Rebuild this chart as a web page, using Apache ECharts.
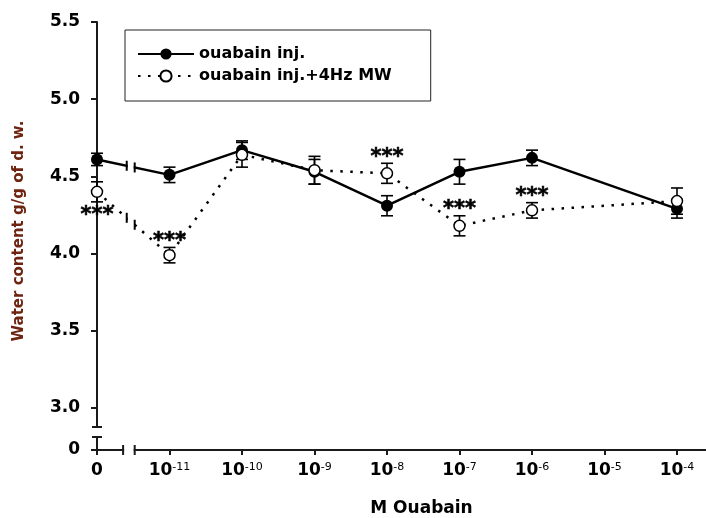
<!DOCTYPE html>
<html><head><meta charset="utf-8">
<script src="https://cdn.jsdelivr.net/npm/echarts@6/dist/echarts.min.js"></script>
<style>html,body{margin:0;padding:0;background:#fff}#chart{width:706px;height:518px}</style>
</head><body><div id="chart"></div>
<script>
// ---- data ----
const tickBase = ['0', '10', '10', '10', '10', '10', '10', '10', '10'];
const tickExponent = ['', '-11', '-10', '-9', '-8', '-7', '-6', '-5', '-4'];
const doseIndex = [0, 1, 2, 3, 4, 5, 6, 7, 8];
const ouabainMean = [4.61, 4.51, 4.67, 4.53, 4.31, 4.53, 4.62, null, 4.29];
const ouabainSem  = [0.04, 0.05, 0.06, 0.08, 0.065, 0.08, 0.05, null, 0.06];
const mwMean = [4.40, 3.99, 4.64, 4.54, 4.52, 4.18, 4.28, null, 4.34];
const mwSem  = [0.065, 0.05, 0.08, 0.09, 0.065, 0.065, 0.05, null, 0.085];
const mwStars = ['below', 'above', null, null, 'above', 'above', 'above', null, null];
const yTicks = [3.0, 3.5, 4.0, 4.5, 5.0, 5.5];
const yLowTicks = [0];
const seriesNames = ['ouabain inj.', 'ouabain inj.+4Hz MW'];
const yName = 'Water content g/g of d. w.';
const xName = 'M Ouabain';

// ---- layout constants ----
const FONT = '"DejaVu Sans", sans-serif';
const Y_MIN = 2.877, Y_MAX = 5.5;
const LOW_MAX = 0.0907;
const X_MAX = 8.4;
const AXIS_COLOR = '#1a1a1a';

function pairs(mean) {
  return doseIndex.filter(i => mean[i] != null).map(i => [doseIndex[i], mean[i]]);
}
function errData(mean, sem) {
  return doseIndex.filter(i => mean[i] != null).map(i => [doseIndex[i], mean[i], sem[i]]);
}
const starData = doseIndex.filter(i => mwStars[i]).map(i => [doseIndex[i], mwMean[i], mwSem[i], mwStars[i] === 'above' ? 1 : -1]);

function renderErr(params, api) {
  const x = api.value(0), m = api.value(1), e = api.value(2);
  const top = api.coord([x, m + e]), bot = api.coord([x, m - e]);
  const hw = 6;
  const style = { stroke: '#000', lineWidth: 1.6 };
  return { type: 'group', children: [
    { type: 'line', shape: { x1: top[0], y1: top[1], x2: bot[0], y2: bot[1] }, style },
    { type: 'line', shape: { x1: top[0] - hw, y1: top[1], x2: top[0] + hw, y2: top[1] }, style },
    { type: 'line', shape: { x1: bot[0] - hw, y1: bot[1], x2: bot[0] + hw, y2: bot[1] }, style }
  ]};
}

function renderStars(params, api) {
  const x = api.value(0), m = api.value(1), e = api.value(2), dir = api.value(3);
  const p = api.coord([x, dir > 0 ? m + e : m - e]);
  const cy = dir > 0 ? p[1] - 11 : p[1] + 9;
  return { type: 'text', x: p[0], y: cy + 5, style: {
    text: '***', fontSize: 21, fontWeight: 'bold', fontFamily: FONT, fill: '#000',
    stroke: '#000', lineWidth: 0.6,
    align: 'center', verticalAlign: 'middle' } };
}

function renderLineBreaks(params, api) {
  const children = [];
  const bar = { stroke: '#000', lineWidth: 2 };
  [ouabainMean, mwMean].forEach(mean => {
    const p0 = api.coord([doseIndex[0], mean[0]]);
    const p1 = api.coord([doseIndex[1], mean[1]]);
    const at = f => [p0[0] + (p1[0] - p0[0]) * f, p0[1] + (p1[1] - p0[1]) * f];
    const a = at(0.41), b = at(0.52);
    children.push({ type: 'polygon', shape: { points: [[a[0] + 1, a[1] - 5], [b[0] - 1, b[1] - 5], [b[0] - 1, b[1] + 5], [a[0] + 1, a[1] + 5]] }, style: { fill: '#fff' } });
    children.push({ type: 'line', shape: { x1: a[0], y1: a[1] - 5, x2: a[0], y2: a[1] + 5 }, style: bar });
    children.push({ type: 'line', shape: { x1: b[0], y1: b[1] - 5, x2: b[0], y2: b[1] + 5 }, style: bar });
  });
  const c = api.coord([0, Y_MIN]);
  children.push({ type: 'line', shape: { x1: c[0] - 5, y1: c[1], x2: c[0] + 5, y2: c[1] }, style: { stroke: AXIS_COLOR, lineWidth: 2 } });
  return { type: 'group', children };
}

function renderAxisBreak(params, api) {
  const o = api.coord([0, 0]);
  const a = api.coord([0.36, 0]), b = api.coord([0.52, 0]);
  const st = { stroke: AXIS_COLOR, lineWidth: 2 };
  const t = api.coord([0, LOW_MAX]);
  return { type: 'group', children: [
    { type: 'rect', shape: { x: a[0] + 1, y: o[1] - 3, width: b[0] - a[0] - 2, height: 6 }, style: { fill: '#fff' } },
    { type: 'line', shape: { x1: a[0], y1: o[1] - 5, x2: a[0], y2: o[1] + 5 }, style: st },
    { type: 'line', shape: { x1: b[0], y1: o[1] - 5, x2: b[0], y2: o[1] + 5 }, style: st },
    { type: 'line', shape: { x1: t[0] - 5, y1: t[1], x2: t[0] + 5, y2: t[1] }, style: st }
  ]};
}

const chart = echarts.init(document.getElementById('chart'), null, { renderer: 'canvas' });
const axisLine = { show: true, onZero: false, lineStyle: { color: AXIS_COLOR, width: 2 } };
const option = {
  animation: false,
  backgroundColor: '#fff',
  textStyle: { fontFamily: FONT },
  legend: {
    orient: 'vertical', left: 125, top: 30,
    borderColor: '#222', borderWidth: 1,
    padding: [16, 39, 17, 12],
    itemWidth: 56, itemHeight: 14, itemGap: 6,
    textStyle: { fontFamily: FONT, fontWeight: 'bold', fontSize: 16, color: '#000' },
    data: seriesNames
  },
  grid: [
    { left: 97, right: 0, top: 22, height: 405 },
    { left: 97, right: 0, top: 437, height: 14 }
  ],
  xAxis: [
    { type: 'value', gridIndex: 0, min: 0, max: X_MAX, show: false, splitLine: { show: false } },
    { type: 'value', gridIndex: 1, min: 0, max: X_MAX, interval: 1,
      axisLine: axisLine,
      axisTick: { show: true, inside: false, length: 5, customValues: doseIndex, lineStyle: { color: AXIS_COLOR, width: 2 } },
      splitLine: { show: false },
      axisLabel: {
        margin: 12, customValues: doseIndex,
        formatter: v => {
          const i = doseIndex.indexOf(Math.round(v));
          if (i < 0 || Math.abs(v - Math.round(v)) > 1e-6) return '';
          return tickExponent[i] ? '{b|' + tickBase[i] + '}{s|' + tickExponent[i] + '}' : '{b|' + tickBase[i] + '}';
        },
        rich: {
          b: { fontFamily: FONT, fontWeight: 'bold', fontSize: 17, color: '#000' },
          s: { fontFamily: FONT, fontWeight: 'normal', fontSize: 11, color: '#000', verticalAlign: 'top' }
        }
      },
      name: xName, nameLocation: 'middle', nameGap: 50,
      nameTextStyle: { fontFamily: FONT, fontWeight: 'bold', fontSize: 17, color: '#000', padding: [0, 0, 0, 40] }
    }
  ],
  yAxis: [
    { type: 'value', gridIndex: 0, min: Y_MIN, max: Y_MAX,
      axisLine: axisLine,
      axisTick: { show: true, inside: false, length: 6, customValues: yTicks, lineStyle: { color: AXIS_COLOR, width: 2 } },
      axisLabel: { margin: 17, customValues: yTicks, formatter: v => v.toFixed(1),
        fontFamily: FONT, fontWeight: 'bold', fontSize: 17, color: '#000' },
      splitLine: { show: false },
      name: yName, nameLocation: 'middle', nameGap: 70,
      nameTextStyle: { fontFamily: FONT, fontWeight: 'bold', fontSize: 15, color: '#6e2410', padding: [0, 13, 0, 0] }
    },
    { type: 'value', gridIndex: 1, min: 0, max: LOW_MAX,
      axisLine: axisLine,
      axisTick: { show: true, inside: false, length: 6, customValues: yLowTicks, lineStyle: { color: AXIS_COLOR, width: 2 } },
      axisLabel: { margin: 17, customValues: yLowTicks, formatter: v => String(v),
        fontFamily: FONT, fontWeight: 'bold', fontSize: 17, color: '#000' },
      splitLine: { show: false }
    }
  ],
  series: [
    { type: 'custom', name: 'err1', xAxisIndex: 0, yAxisIndex: 0, z: 1, silent: true,
      renderItem: renderErr, data: errData(ouabainMean, ouabainSem), encode: { x: 0, y: 1 } },
    { type: 'custom', name: 'err2', xAxisIndex: 0, yAxisIndex: 0, z: 1, silent: true,
      renderItem: renderErr, data: errData(mwMean, mwSem), encode: { x: 0, y: 1 } },
    { type: 'line', name: seriesNames[0], xAxisIndex: 0, yAxisIndex: 0, z: 3,
      data: pairs(ouabainMean), symbol: 'circle', symbolSize: 12, showSymbol: true,
      lineStyle: { color: '#000', width: 2.5 }, itemStyle: { color: '#000' } },
    { type: 'line', name: seriesNames[1], xAxisIndex: 0, yAxisIndex: 0, z: 4,
      data: pairs(mwMean), symbol: 'circle', symbolSize: 11, showSymbol: true,
      lineStyle: { color: '#000', width: 2.5, type: [2.5, 7.5] },
      itemStyle: { color: '#fff', borderColor: '#000', borderWidth: 1.5 } },
    { type: 'custom', name: 'breaks', xAxisIndex: 0, yAxisIndex: 0, z: 5, silent: true,
      renderItem: renderLineBreaks, data: [[0, Y_MIN]], encode: { x: 0, y: 1 } },
    { type: 'custom', name: 'stars', xAxisIndex: 0, yAxisIndex: 0, z: 6, silent: true,
      renderItem: renderStars, data: starData, encode: { x: 0, y: 1 } },
    { type: 'custom', name: 'axisBreak', xAxisIndex: 1, yAxisIndex: 1, z: 6, silent: true,
      renderItem: renderAxisBreak, data: [[0, 0]], encode: { x: 0, y: 1 } }
  ]
};
chart.setOption(option);
</script></body></html>
